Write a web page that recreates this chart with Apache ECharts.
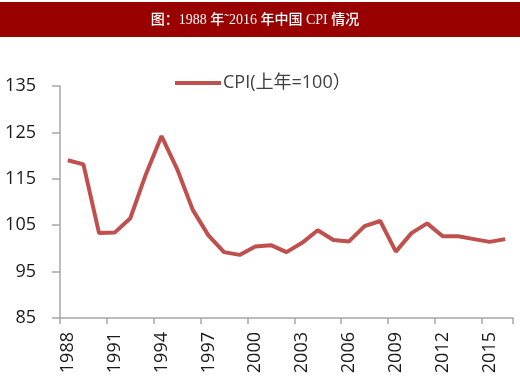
<!DOCTYPE html>
<html>
<head>
<meta charset="utf-8">
<script src="https://cdn.jsdelivr.net/npm/echarts@6/dist/echarts.min.js"></script>
<style>
html,body{margin:0;padding:0;background:#fff;}
#c{width:520px;height:388px;}
</style>
</head>
<body>
<div id="c"></div>
<script>
var titleText = '图：1988 年˜2016 年中国 CPI 情况';
var seriesName = 'CPI(上年=100）';
var years = ['1988','1989','1990','1991','1992','1993','1994','1995','1996','1997','1998','1999','2000','2001','2002','2003','2004','2005','2006','2007','2008','2009','2010','2011','2012','2013','2014','2015','2016'];
var cpi = [119.0,118.1,103.3,103.4,106.5,116.0,124.2,117.1,108.3,102.8,99.2,98.6,100.4,100.7,99.2,101.2,103.9,101.8,101.5,104.8,105.9,99.3,103.3,105.4,102.6,102.6,102.0,101.4,102.0];
var yMin = 85, yMax = 135, yStep = 10;

var chart = echarts.init(document.getElementById('c'));
chart.setOption({
  animation: false,
  backgroundColor: '#ffffff',
  graphic: [
    { type: 'rect', shape: { x: 0, y: 2, width: 520, height: 35 }, style: { fill: '#990000' }, z: 0 },
    { type: 'text', x: 255, y: 20, style: { text: titleText, fill: '#ffffff', font: '500 14px "Liberation Serif", "Noto Sans CJK SC", serif', textAlign: 'center', textVerticalAlign: 'middle' }, z: 1 }
  ],
  legend: {
    data: [seriesName],
    left: 170, top: 69,
    itemWidth: 46, itemHeight: 4, itemGap: 2,
    icon: 'rect',
    textStyle: { fontFamily: '"Open Sans", "Noto Sans CJK SC", sans-serif', fontSize: 18, color: '#404040', padding: [0,0,0,-3] }
  },
  grid: { left: 60, right: 7, top: 86, bottom: 70 },
  xAxis: {
    type: 'category',
    data: years,
    boundaryGap: true,
    axisLine: { lineStyle: { color: '#a6a6a6', width: 1.5 } },
    axisTick: { show: true, interval: 2, length: 6, lineStyle: { color: '#a6a6a6', width: 1.5 } },
    axisLabel: { interval: 2, rotate: 90, margin: 14, color: '#1a1a1a', fontSize: 18, fontFamily: '"Open Sans", sans-serif' },
    splitLine: { show: false }
  },
  yAxis: {
    type: 'value',
    min: yMin, max: yMax, interval: yStep,
    axisLine: { show: true, lineStyle: { color: '#a6a6a6', width: 1.5 } },
    axisTick: { show: true, length: 8, lineStyle: { color: '#a6a6a6', width: 1.5 } },
    axisLabel: { margin: 24, color: '#1a1a1a', fontSize: 18, fontFamily: '"Open Sans", sans-serif' },
    splitLine: { show: false }
  },
  series: [{
    name: seriesName,
    type: 'line',
    data: cpi,
    symbol: 'none',
    lineStyle: { color: '#c0504d', width: 4 },
    itemStyle: { color: '#c0504d' }
  }]
});
</script>
</body>
</html>
